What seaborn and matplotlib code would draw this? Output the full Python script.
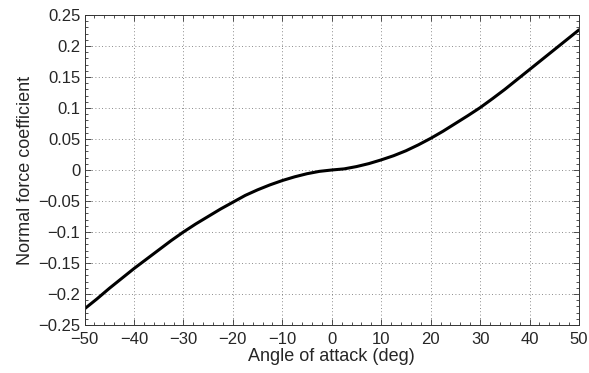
import numpy as np
import pandas as pd
import matplotlib
matplotlib.use("Agg")
import matplotlib.pyplot as plt
from matplotlib.ticker import MultipleLocator
import seaborn as sns

# values
angle_deg = [-50, -47.5, -45, -42.5, -40, -37.5, -35, -32.5, -30, -27.5, -25,
             -22.5, -20, -17.5, -15, -12.5, -10, -7.5, -5, -2.5, 0,
             2.5, 5, 7.5, 10, 12.5, 15, 17.5, 20, 22.5, 25,
             27.5, 30, 32.5, 35, 37.5, 40, 42.5, 45, 47.5, 50]
normal_force = [-0.224, -0.208, -0.191, -0.175, -0.159, -0.144, -0.129, -0.114, -0.100, -0.087, -0.075,
                -0.063, -0.052, -0.041, -0.032, -0.024, -0.017, -0.011, -0.006, -0.0022, 0.0,
                0.0018, 0.0055, 0.0103, 0.0163, 0.023, 0.031, 0.0405, 0.051, 0.0625, 0.075,
                0.0875, 0.1005, 0.115, 0.130, 0.146, 0.162, 0.178, 0.194, 0.210, 0.226]
x_ticks = [-50, -40, -30, -20, -10, 0, 10, 20, 30, 40, 50]
y_ticks = [-0.25, -0.2, -0.15, -0.1, -0.05, 0, 0.05, 0.1, 0.15, 0.2, 0.25]
y_tick_labels = ["\u22120.25", "\u22120.2", "\u22120.15", "\u22120.1", "\u22120.05", "0",
                 "0.05", "0.1", "0.15", "0.2", "0.25"]


def main():
    sns.set_style("white")
    plt.rcParams['font.family'] = ['Liberation Sans', 'DejaVu Sans']

    df = pd.DataFrame({'angle': angle_deg, 'cn': normal_force})

    fig = plt.figure(figsize=(5.89, 3.73), dpi=100)
    ax = fig.add_axes([0.1435, 0.1287, 0.8395, 0.8311])

    sns.lineplot(data=df, x='angle', y='cn', ax=ax, color='black', linewidth=2.2)

    ax.set_xlim(-50, 50)
    ax.set_ylim(-0.25, 0.25)
    ax.set_xticks(x_ticks)
    ax.set_xticklabels([str(t).replace('-', '\u2212') for t in x_ticks])
    ax.set_yticks(y_ticks)
    ax.set_yticklabels(y_tick_labels)
    ax.xaxis.set_minor_locator(MultipleLocator(2))
    ax.yaxis.set_minor_locator(MultipleLocator(0.01))

    ax.tick_params(which='both', direction='in', top=True, right=True,
                   bottom=True, left=True, color='#333333', width=0.6)
    ax.tick_params(which='major', length=4, labelsize=12)
    ax.tick_params(axis='x', which='major', pad=5)
    ax.tick_params(axis='y', which='major', pad=3)
    ax.tick_params(which='minor', length=2)

    ax.grid(True, which='major', linestyle=(0, (1, 3)), color='#666666', linewidth=0.6)
    for s in ax.spines.values():
        s.set_color('#333333')
        s.set_linewidth(0.7)

    ax.set_xlabel('Angle of attack (deg)', fontsize=13, labelpad=1)
    ax.set_ylabel('Normal force coefficient', fontsize=13, labelpad=3)

    fig.savefig('out.png', dpi=100)


if __name__ == "__main__":
    main()
